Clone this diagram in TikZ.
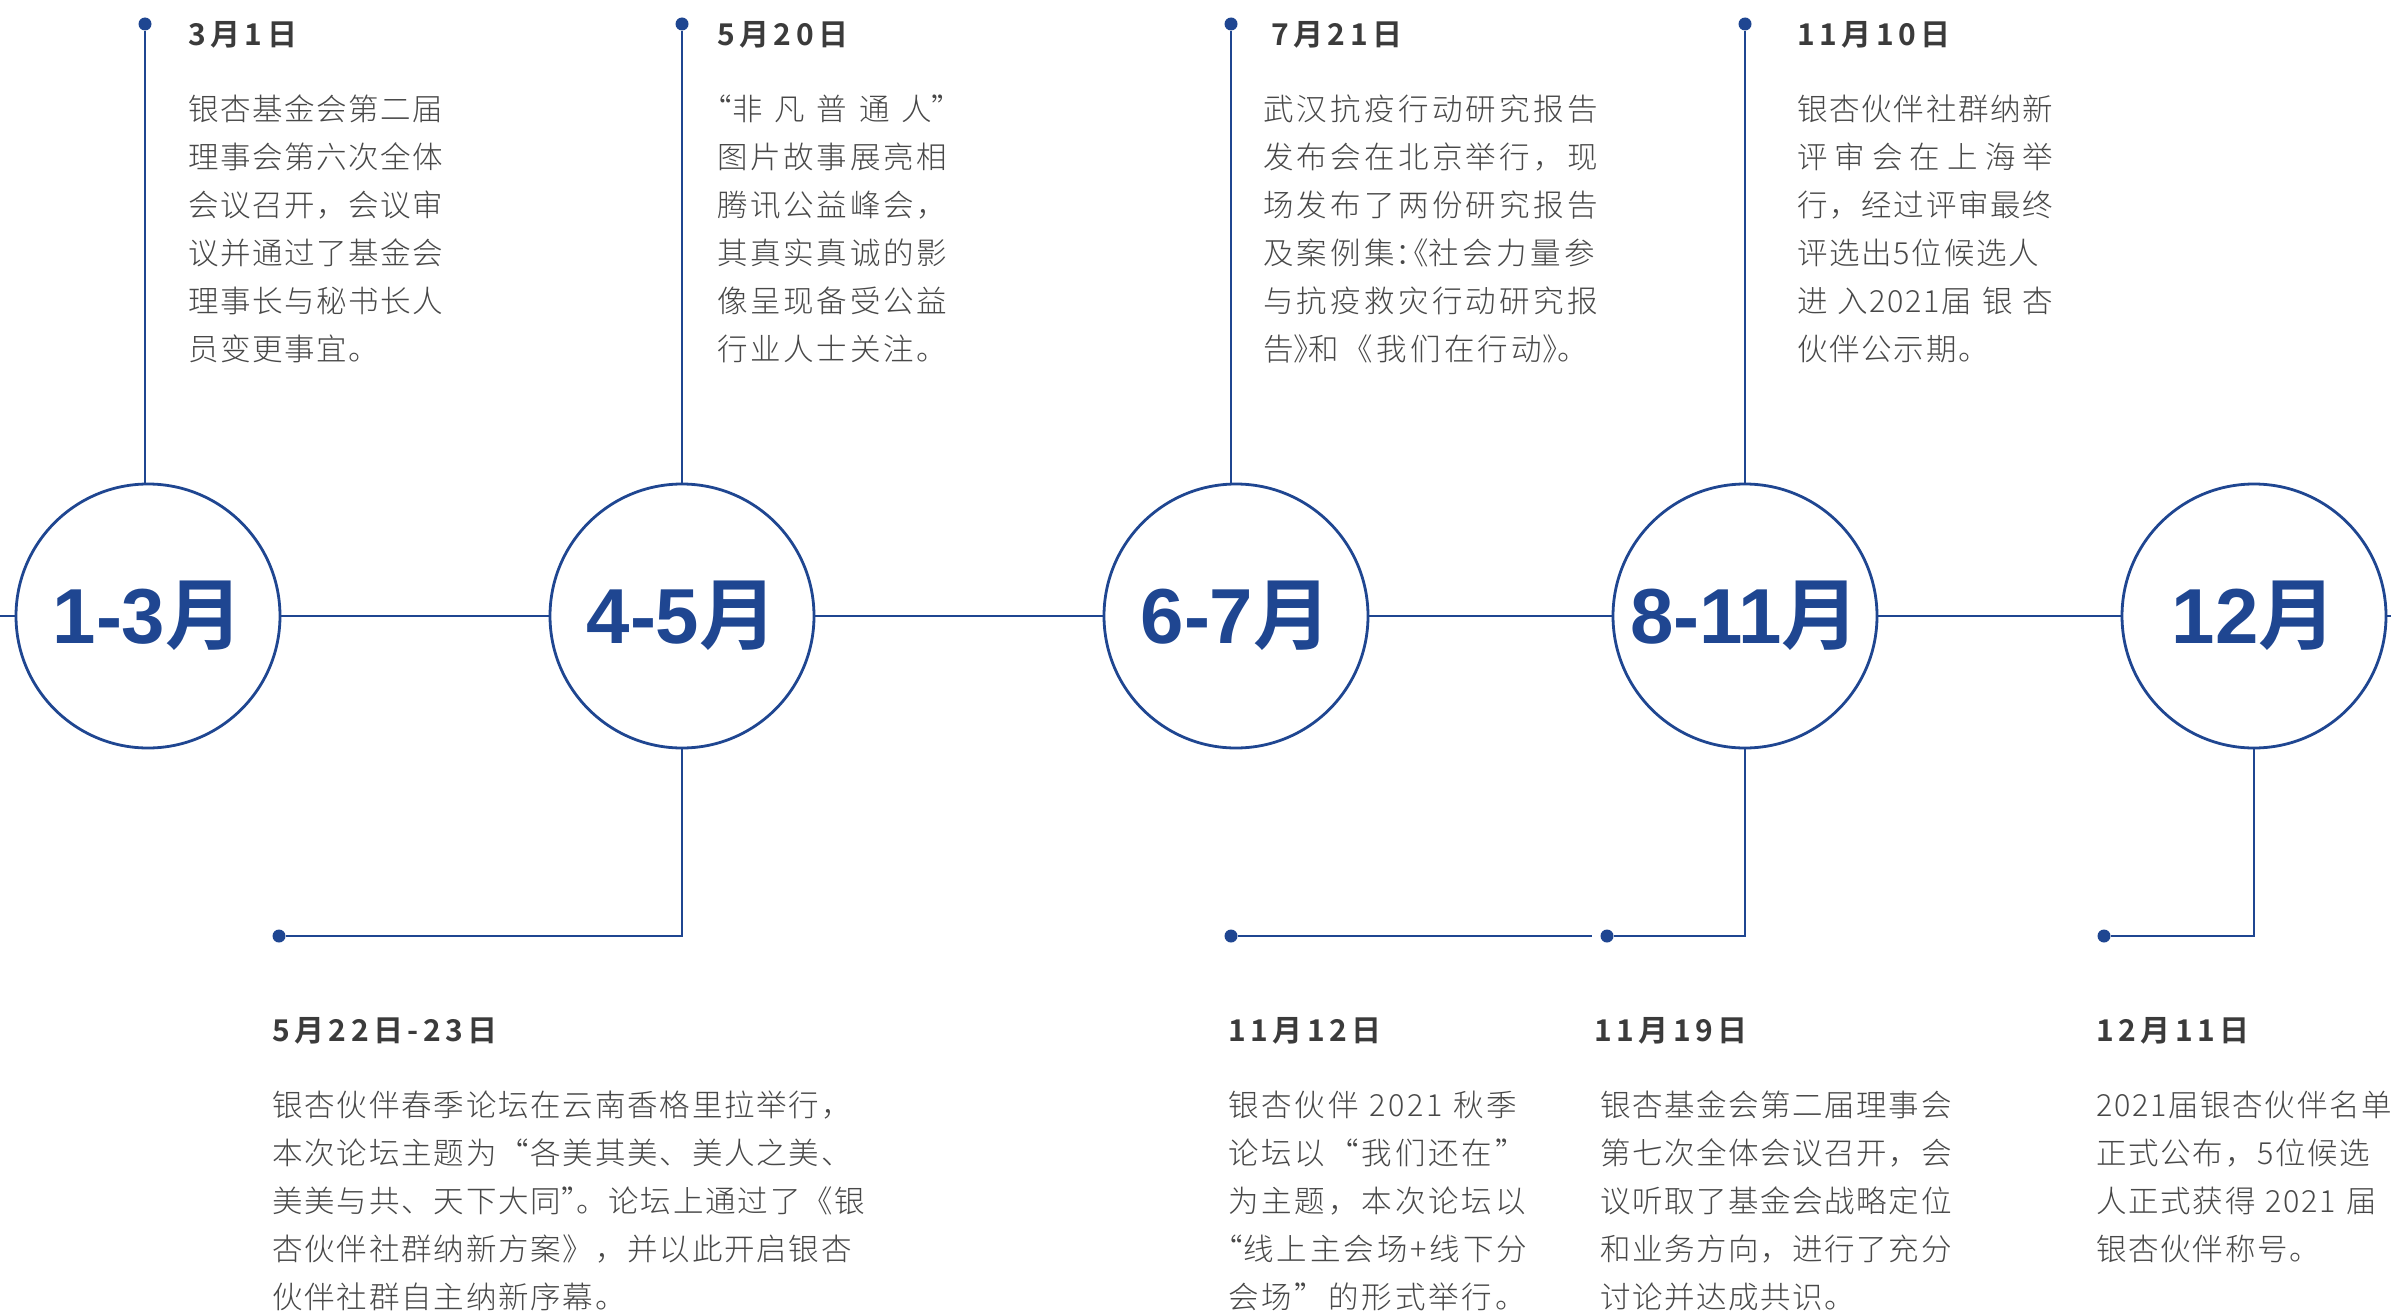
\documentclass[tikz,border=0pt]{standalone}
\usepackage{fontspec}
\usepackage{tikz}
\usetikzlibrary{positioning}

\setsansfont{Liberation Sans}
\IfFontExistsTF{Noto Sans CJK SC Light}
    {\newfontfamily\bodyfont{Noto Sans CJK SC Light}}
    {\newfontfamily\bodyfont{Noto Sans CJK SC}}
\IfFontExistsTF{Noto Sans CJK SC Bold}
    {\newfontfamily\cjkbold{Noto Sans CJK SC Bold}
     \newfontfamily\datefont{Noto Sans CJK SC Bold}[LetterSpace=15]}
    {\newfontfamily\cjkbold{Noto Sans CJK SC}[FakeBold=3]
     \newfontfamily\datefont{Noto Sans CJK SC}[LetterSpace=15,FakeBold=2]}

\definecolor{tlblue}{RGB}{31,70,145}
\definecolor{dategray}{RGB}{59,59,59}
\definecolor{bodygray}{RGB}{72,72,72}

\newcommand\monthlabel[1]{{\sffamily\bfseries #1}{\cjkbold 月}}
% half-width punctuation
\newcommand\hw[1]{{\addfontfeature{RawFeature=+halt}#1}}

\begin{document}
\begin{tikzpicture}[
        x=1pt, y=-1pt,
        month/.style={
            circle, draw=tlblue, line width=2.8pt, fill=white, minimum size=264pt,
            inner sep=0pt, outer sep=0pt, text=tlblue, font=\fontsize{78}{80}\selectfont
        },
        axis/.style={draw=tlblue, line width=2.2pt},
        stem/.style={draw=tlblue, line width=1.6pt},
        pin/.style={circle, fill=tlblue, minimum size=13pt, inner sep=0pt},
        datetext/.style={
            anchor=base west, inner sep=0pt, text=dategray,
            font=\datefont\fontsize{30}{36}\selectfont
        },
        bodytext/.style={
            anchor=base west, inner sep=0pt, text width=640pt, align=left, text=bodygray,
            font=\bodyfont\fontsize{30.5}{48}\selectfont\addfontfeature{LetterSpace=#1}
        }
    ]

    \path[use as bounding box, fill=white] (0,0) rectangle (2391,1311);

    % Month circles (left to right)
    \node[month] (c1) at (148,616) {\monthlabel{1-3}};
    \node[month, right=270pt of c1] (c2) {\monthlabel{4-5}};
    \node[month, right=290pt of c2] (c3) {\monthlabel{6-7}};
    \node[month, right=245pt of c3] (c4) {\monthlabel{8-11}};
    \node[month, right=245pt of c4] (c5) {\monthlabel{12}};

    % Time axis
    \coordinate (axisL) at (0,616);
    \coordinate (axisR) at (2391,616);
    \draw[axis] (axisL) -- (c1) -- (c2) -- (c3) -- (c4) -- (c5) -- (axisR);

    % Pins above
    \node[pin] (t1) at (145,24) {};
    \node[pin] (t2) at (682,24) {};
    \node[pin] (t3) at (1231,24) {};
    \node[pin] (t4) at (1745,24) {};

    % Pins below
    \node[pin] (b1) at (279,936) {};
    \node[pin] (b2) at (1231,936) {};
    \node[pin] (b3) at (1607,936) {};
    \node[pin] (b4) at (2104,936) {};
    \coordinate (b2end) at (1592,936);

    % Stems
    \draw[stem] (t1) -- (t1 |- c1.north);
    \draw[stem] (t2) -- (t2 |- c2.north);
    \draw[stem] (t3) -- (t3 |- c3.north);
    \draw[stem] (t4) -- (t4 |- c4.north);
    \draw[stem] (c2.south) |- (b1);
    \draw[stem] (b2) -- (b2end);
    \draw[stem] (c4.south) |- (b3);
    \draw[stem] (c5.south) |- (b4);

    % Events above the axis
    \node[datetext] (d1) at (188,45.5) {3月1日};
    \node[bodytext=5.2] (e1) at (188,121) {银杏基金会第二届\\理事会第六次全体\\会议召开，会议审\\议并通过了基金会\\理事长与秘书长人\\员变更事宜。};

    \node[datetext] (d2) at (717,45.5) {5月20日};
    \node[bodytext=8.9] (e2) at (717,121) {\makebox[230pt][s]{\hw{“}非\hfill 凡\hfill 普\hfill 通\hfill 人\hw{”}}\\图片故事展亮相\\腾讯公益峰会，\\其真实真诚的影\\像呈现备受公益\\行业人士关注。};

    \node[datetext] (d3) at (1271,45.5) {7月21日};
    \node[bodytext=10.8] (e3) at (1263,121) {武汉抗疫行动研究报告\\发布会在北京举行，现\\场发布了两份研究报告\\及案例集\hw{：《}社会力量参\\与抗疫救灾行动研究报\\告\hw{》}和《我们在行动\hw{》}。};

    \node[datetext] (d4) at (1797,45.5) {11月10日};
    \node[bodytext=5.6] (e4) at (1797,121) {银杏伙伴社群纳新\\\makebox[256pt][s]{评\hfill 审\hfill 会\hfill 在\hfill 上\hfill 海\hfill 举}\\行，经过评审最终\\评选出5位候选人\\\makebox[256pt][s]{进\hfill 入2021届\hfill 银\hfill 杏}\\伙伴公示期。};

    % Events below the axis
    \node[datetext] (d5) at (272,1041) {5月22日-23日};
    \node[bodytext=5.9] (e5) at (272,1116) {银杏伙伴春季论坛在云南香格里拉举行，\\本次论坛主题为“各美其美、美人之美、\\美美与共、天下大同\hw{”}。论坛上通过了《银\\杏伙伴社群纳新方案》，并以此开启银杏\\伙伴社群自主纳新序幕。};

    \node[datetext] (d6) at (1228,1041) {11月12日};
    \node[bodytext=9.5] (e6) at (1228,1116) {\makebox[302pt][s]{银杏伙伴 2021 秋季}\\论坛以“我们还在”\\为主题，本次论坛以\\\hw{“}线上主会场+线下分\\会场”的形式举行。};

    \node[datetext] (d7) at (1594,1041) {11月19日};
    \node[bodytext=5.2] (e7) at (1600,1116) {银杏基金会第二届理事会\\第七次全体会议召开，会\\议听取了基金会战略定位\\和业务方向，进行了充分\\讨论并达成共识。};

    \node[datetext] (d8) at (2096,1041) {12月11日};
    \node[bodytext=5.6] (e8) at (2096,1116) {2021届银杏伙伴名单\\正式公布，5位候选\\人正式获得 2021 届\\银杏伙伴称号。};

\end{tikzpicture}
\end{document}
